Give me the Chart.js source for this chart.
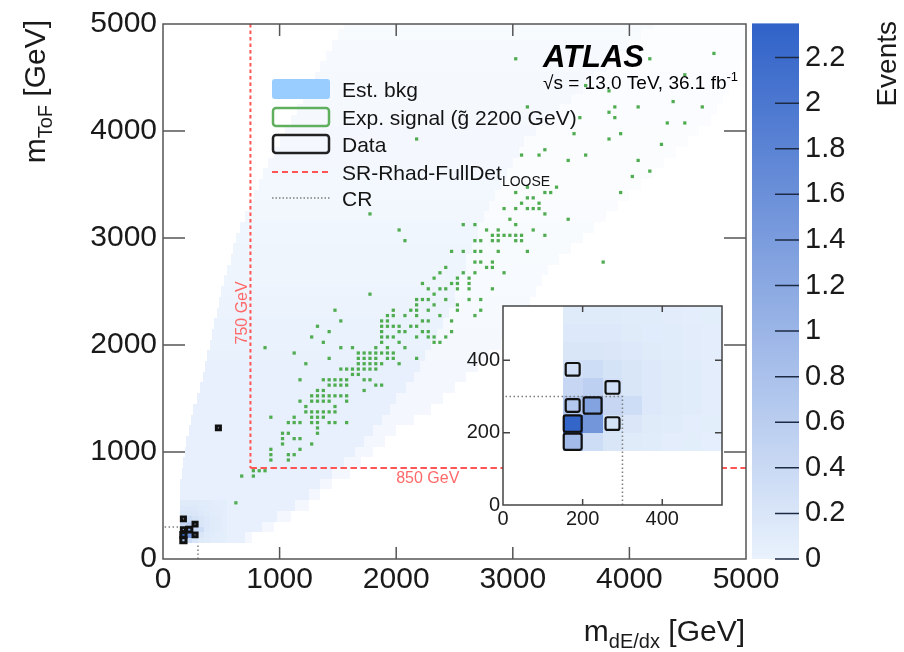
<!DOCTYPE html>
<html>
<head>
<meta charset="utf-8">
<script src="https://cdn.jsdelivr.net/npm/chart.js@4.4.1/dist/chart.umd.min.js"></script>
<style>
  html, body { margin: 0; padding: 0; background: #fff; }
  #wrap { position: relative; width: 904px; height: 652px; overflow: hidden; }
  #wrap canvas { position: absolute; }
  #main { left: 0; top: 0; }
  #cbar { left: 740px; top: 0; }
  #inset { left: 440px; top: 290px; }
</style>
</head>
<body>
<div id="wrap">
  <canvas id="main" width="904" height="652"></canvas>
  <canvas id="cbar" width="164" height="652"></canvas>
  <canvas id="inset" width="300" height="260"></canvas>
</div>
<script>
// Datos (GeV, bins de 50 GeV)
const mainMax = 5000;
const insetMax = 550;
const cbMax = 2.35;
const srX = 750;   // corte m_dE/dx
const srY = 850;   // corte m_ToF
const crCut = 300; // región de control

// fondo estimado: filas de 100 GeV, núcleo y halo disperso
const bkgTail = 0.03;
const bkgRowLow = [150,250,350,450,550,650,750,850,950,1050,1150,1250,1350,1450,1550,1650,1750,1850,1950,2050,
  2150,2250,2350,2450,2550,2650,2750,2850,2950,3050,3150,3250,3350,3450,3550,3650,3750,3850,3950,4050,
  4150,4250,4350,4450,4550,4650,4750,4850,4950];
const bkgCoreFrom = [150,150,150,150,150,150,160,170,190,200,220,240,260,290,320,340,360,380,400,420,
  440,460,480,500,520,550,580,600,630,660,700,740,780,820,860,900,950,1000,1050,1100,
  1150,1200,1250,1300,1350,1400,1450,1500,1550];
const bkgCoreTo = [700,850,980,1130,1250,1350,1450,1550,1650,1720,1800,1880,1950,2000,2080,2150,2200,2250,2300,2350,
  2400,2450,2500,2500,2550,2600,2600,2650,2700,2700,2750,2800,2850,2900,2950,3000,3050,3100,3200,3300,
  3400,3500,3600,3700,3800,3900,4000,4100,4200];
const bkgHaloTo = [760,950,1100,1250,1350,1450,1600,1700,1800,1900,2000,2150,2300,2400,2500,2600,2700,2800,2900,3000,
  3050,3100,3150,3200,3250,3300,3400,3500,3600,3700,3800,3900,4000,4100,4200,4300,4400,4500,4600,4700,
  4750,4800,4850,4900,4950,5000,5000,5000,5000];
const bkgLevel = [1,1,1,1,1,1,1,1,1,1,1,1,1,1,1,1,1,0.95,0.9,0.9,
  0.85,0.8,0.8,0.75,0.7,0.7,0.65,0.65,0.6,0.6,0.55,0.55,0.5,0.5,0.5,0.45,0.45,0.45,0.45,0.4,
  0.4,0.4,0.4,0.4,0.35,0.35,0.35,0.3,0.3];

// zona baja (inserto): bordes de bins y contenido, filas de abajo hacia arriba
const lowEdges = [150,200,250,300,350,400,450,500,550];
const lowBkg = [
  [0.9, 0.35, 0.2, 0.12, 0.1, 0.08, 0.07, 0.06],
  [2.3, 1.5, 0.25, 0.18, 0.12, 0.1, 0.08, 0.07],
  [0.7, 1.3, 0.45, 0.35, 0.15, 0.12, 0.1, 0.08],
  [0.45, 0.55, 0.3, 0.2, 0.15, 0.12, 0.1, 0.08],
  [0.3, 0.35, 0.25, 0.2, 0.15, 0.12, 0.1, 0.08],
  [0.2, 0.2, 0.18, 0.15, 0.12, 0.1, 0.09, 0.08],
  [0.15, 0.15, 0.15, 0.12, 0.11, 0.1, 0.09, 0.08],
  [0.12, 0.12, 0.12, 0.1, 0.1, 0.09, 0.08, 0.07]
];

// datos observados (centros de bin) y número de eventos
const dataX = [175, 175, 225, 175, 275, 275, 175, 475];
const dataY = [175, 225, 275, 275, 225, 325, 375, 1225];
const dataN = [2, 2, 2, 1, 1, 1, 1, 1];

// señal esperada (gluino 2200 GeV), centros de bin
const signalPts = [
  [1775,3225],[2025,3075],[2075,2975],[2575,3125],[2675,3125],[2775,3075],[2875,3075],[2975,3175],[2925,3275],
  [2825,3025],[2875,3025],[2925,3025],[2975,3025],[2675,2975],[2725,2975],[2825,2975],[2875,2975],
  [2475,2875],[2575,2875],[2675,2875],[2725,2875],[2875,2875],[2675,2775],[2725,2775],[2825,2775],
  [2775,2725],[2825,2725],[2925,2675],[2575,2675],[2675,2675],[2425,2725],[2375,2675],[2325,2625],[2525,2625],[2625,2625],
  [2225,2575],[2275,2525],[2375,2525],[2425,2525],[2525,2575],[2625,2575],[2475,2575],
  [1775,2475],[2175,2425],[2225,2425],[2325,2475],[2525,2525],[2625,2525],[2725,2425],[2825,2525],
  [2325,2375],[2425,2425],[2525,2375],[2625,2425],[2725,2325],[2175,2375],[2275,2425],
  [1475,2325],[1975,2325],[2125,2325],[2175,2325],[2525,2325],[2275,2325],
  [1525,2225],[1925,2275],[1975,2275],[2075,2275],[2175,2275],[2225,2225],[2275,2225],[2375,2275],[2475,2225],[2675,2275],
  [1325,2175],[1875,2225],[1925,2225],[1875,2175],[1925,2175],[1975,2175],[2025,2175],[2125,2175],[2175,2175],
  [1275,2075],[1425,2125],[1875,2125],[1925,2075],[2025,2125],[2075,2125],[2175,2075],[2275,2125],[2325,2075],[2425,2075],[2475,2125],[2225,2125],
  [875,1975],[1375,2025],[1525,1975],[1625,1975],[1825,1975],[1875,2025],[1925,1975],[2025,2025],[2075,1975],[1975,2075],[1875,2075],[2325,2025],[2375,2025],[2275,2075],
  [1125,1925],[1675,1925],[1725,1925],[1775,1925],[1825,1925],[1875,1925],[1925,1925],[1975,1925],
  [1425,1875],[1675,1875],[1725,1875],[1775,1875],[1825,1875],[1925,1875],[1975,1875],[2175,1875],
  [1225,1825],[1675,1825],[1725,1825],[1775,1825],[1825,1825],[1875,1825],[2025,1825],
  [1525,1775],[1575,1775],[1625,1775],[1675,1775],[1725,1775],[1775,1775],[1825,1775],
  [1175,1675],[1375,1675],[1425,1675],[1475,1675],[1525,1675],[1575,1675],[1625,1725],[1675,1725],[1725,1675],[1775,1675],[1825,1625],[1875,1625],
  [1325,1575],[1375,1575],[1425,1625],[1475,1625],[1525,1625],[1575,1625],[1725,1575],
  [1175,1475],[1275,1525],[1325,1525],[1375,1525],[1425,1525],[1475,1525],[1525,1525],[1575,1475],
  [1225,1425],[1275,1475],[1325,1475],[1375,1475],[1425,1475],[1475,1425],[1575,1525],
  [1225,1375],[1275,1375],[1325,1375],[1375,1375],[1425,1375],[1475,1375],
  [925,1325],[1125,1325],[1275,1325],[1325,1325],[1375,1325],[1425,1275],[1475,1275],[1575,1275],
  [1075,1275],[1125,1275],[1175,1275],[1275,1275],[1325,1275],
  [1025,1175],[1075,1175],[1325,1225],[1325,1175],
  [1025,1125],[1125,1125],[1175,1125],
  [1025,1075],[1275,1075],
  [925,1025],[1175,1025],[925,975],[1075,975],[1125,975],[925,925],[1075,925],
  [775,825],[825,825],[875,825],[675,775],[775,775],[625,525],
  [2175,3925],
  [3025,4675],[4175,4675],[4725,4725],[4475,4525],[3625,4425],[3825,4375],
  [3125,4225],[3875,4225],[4075,4225],[4375,4275],[4625,4225],[3825,4175],[3875,4125],[3575,4125],
  [4325,4075],[4475,4075],[3525,3975],[3925,3975],[3825,3925],[4275,3875],[3275,3825],
  [3075,3775],[3225,3775],[3475,3725],[3625,3775],[4075,3725],[4175,3625],[4025,3575],
  [3125,3475],[3375,3475],[3275,3425],[3325,3425],[3025,3425],[3925,3425],[3125,3375],[3175,3375],
  [3075,3325],[3225,3325],[3025,3275],[3125,3275],[3175,3275],[3225,3275],[3275,3225],[3475,3175],
  [3025,3125],[3175,3075],[3025,3025],[3075,3025],[3275,3025],[3025,2975],[3075,2975],[3125,2875],[3775,2775]
];

const FONT = "'Liberation Sans', Arial, Helvetica, sans-serif";
Chart.defaults.font.family = FONT;
Chart.defaults.color = '#1a1a1a';

// Paleta lineal de la barra de color
function cellColor(v, level = 1) {
  const t = Math.max(0, Math.min(1, v / cbMax));
  const lo = [233, 242, 253], hi = [48, 98, 200];
  const c = lo.map((l, i) => l + (hi[i] - l) * t);
  return 'rgb(' + c.map(ch => Math.round(255 + (ch - 255) * level)).join(',') + ')';
}

function fillCell(chart, x0, x1, y0, y1, color) {
  const xs = chart.scales.x, ys = chart.scales.y;
  const l = Math.round(xs.getPixelForValue(x0)), r = Math.round(xs.getPixelForValue(x1));
  const t = Math.round(ys.getPixelForValue(y1)), b = Math.round(ys.getPixelForValue(y0));
  chart.ctx.fillStyle = color;
  chart.ctx.fillRect(l, t, r - l, b - t);
}

function clipArea(chart) {
  const a = chart.chartArea;
  chart.ctx.beginPath();
  chart.ctx.rect(a.left, a.top, a.right - a.left, a.bottom - a.top);
  chart.ctx.clip();
}

function drawLowBins(chart) {
  lowBkg.forEach((row, j) => row.forEach((v, i) => {
    fillCell(chart, lowEdges[i], lowEdges[i + 1], lowEdges[j], lowEdges[j + 1], cellColor(v));
  }));
}

function drawCrLines(chart) {
  const ctx = chart.ctx, xs = chart.scales.x, ys = chart.scales.y;
  ctx.save();
  ctx.strokeStyle = 'rgb(125,125,125)';
  ctx.lineWidth = 1.5;
  ctx.setLineDash([1.5, 2.5]);
  ctx.beginPath();
  ctx.moveTo(xs.getPixelForValue(crCut), ys.getPixelForValue(0));
  ctx.lineTo(xs.getPixelForValue(crCut), ys.getPixelForValue(crCut));
  ctx.lineTo(xs.getPixelForValue(0), ys.getPixelForValue(crCut));
  ctx.stroke();
  ctx.restore();
}

function drawDataBoxes(chart, lw, radius) {
  const ctx = chart.ctx, xs = chart.scales.x, ys = chart.scales.y;
  ctx.save();
  clipArea(chart);
  ctx.strokeStyle = '#111';
  ctx.lineWidth = lw;
  dataX.forEach((x, i) => {
    const h = 25 * (0.5 + 0.2 * dataN[i]);
    const l = xs.getPixelForValue(x - h), r = xs.getPixelForValue(x + h);
    const t = ys.getPixelForValue(dataY[i] + h), b = ys.getPixelForValue(dataY[i] - h);
    ctx.beginPath();
    if (radius && ctx.roundRect) ctx.roundRect(l, t, r - l, b - t, radius);
    else ctx.rect(l, t, r - l, b - t);
    ctx.stroke();
  });
  ctx.restore();
}

function drawFrame(chart, ticks, lenX, lenY, color, lw) {
  const ctx = chart.ctx, a = chart.chartArea, xs = chart.scales.x, ys = chart.scales.y;
  ctx.save();
  ctx.strokeStyle = color;
  ctx.lineWidth = lw;
  ctx.strokeRect(a.left, a.top, a.right - a.left, a.bottom - a.top);
  ctx.beginPath();
  ticks.forEach(v => {
    const px = xs.getPixelForValue(v), py = ys.getPixelForValue(v);
    if (px > a.left + 1 && px < a.right - 1) {
      ctx.moveTo(px, a.bottom); ctx.lineTo(px, a.bottom - lenX);
      ctx.moveTo(px, a.top); ctx.lineTo(px, a.top + lenX);
    }
    if (py > a.top + 1 && py < a.bottom - 1) {
      ctx.moveTo(a.left, py); ctx.lineTo(a.left + lenY, py);
      ctx.moveTo(a.right, py); ctx.lineTo(a.right - lenY, py);
    }
  });
  ctx.stroke();
  ctx.restore();
}

// texto con subíndices / superíndices
function drawRich(ctx, parts, x, y, align) {
  let w = 0;
  parts.forEach(p => {
    ctx.font = (p.style || '') + ' ' + p.size + 'px ' + FONT;
    p.w = ctx.measureText(p.t).width;
    w += p.w;
  });
  let cx = align === 'right' ? x - w : x;
  ctx.textAlign = 'left';
  parts.forEach(p => {
    ctx.font = (p.style || '') + ' ' + p.size + 'px ' + FONT;
    ctx.fillText(p.t, cx, y + (p.dy || 0));
    cx += p.w;
  });
}

function rr(ctx, x, y, w, h, r) {
  ctx.beginPath();
  if (ctx.roundRect) ctx.roundRect(x, y, w, h, r); else ctx.rect(x, y, w, h);
}

function drawLegend(ctx) {
  ctx.save();
  ctx.fillStyle = 'rgb(153,204,255)';
  rr(ctx, 272, 79, 58, 20, 3); ctx.fill();
  ctx.lineWidth = 2.5;
  ctx.strokeStyle = 'rgb(95,175,95)';
  rr(ctx, 273, 108, 56, 18, 3); ctx.stroke();
  ctx.strokeStyle = '#222';
  rr(ctx, 273, 135, 56, 18, 3); ctx.stroke();
  ctx.lineWidth = 2;
  ctx.strokeStyle = 'rgb(255,85,85)';
  ctx.setLineDash([6, 4]);
  ctx.beginPath(); ctx.moveTo(272, 172); ctx.lineTo(330, 172); ctx.stroke();
  ctx.strokeStyle = 'rgb(125,125,125)';
  ctx.lineWidth = 1.5;
  ctx.setLineDash([1.5, 2]);
  ctx.beginPath(); ctx.moveTo(272, 198); ctx.lineTo(330, 198); ctx.stroke();
  ctx.setLineDash([]);

  ctx.fillStyle = '#141414';
  ctx.textBaseline = 'alphabetic';
  drawRich(ctx, [{t: 'Est. bkg', size: 21}], 342, 97);
  drawRich(ctx, [{t: 'Exp. signal (g\u0303 2200 GeV)', size: 21}], 342, 125);
  drawRich(ctx, [{t: 'Data', size: 21}], 342, 152);
  drawRich(ctx, [{t: 'SR-Rhad-FullDet', size: 21}, {t: 'LOOSE', size: 14, dy: 6}], 342, 180);
  drawRich(ctx, [{t: 'CR', size: 21}], 342, 206);
  ctx.restore();
}

const mainPlugin = {
  id: 'mainDecor',
  beforeDatasetsDraw(chart) {
    const ctx = chart.ctx;
    ctx.save();
    clipArea(chart);
    drawCrLines(chart);
    bkgRowLow.forEach((y0, i) => {
      const y1 = Math.min(y0 + 100, mainMax);
      fillCell(chart, bkgCoreFrom[i], bkgCoreTo[i], y0, y1, cellColor(bkgTail, bkgLevel[i]));
      fillCell(chart, bkgCoreTo[i], bkgHaloTo[i], y0, y1, cellColor(bkgTail, bkgLevel[i] * 0.45));
    });
    drawLowBins(chart);
    ctx.restore();
  },
  afterDatasetsDraw(chart) {
    const ctx = chart.ctx, xs = chart.scales.x, ys = chart.scales.y;
    drawDataBoxes(chart, 3, 0);

    // líneas de la región de señal
    ctx.save();
    ctx.strokeStyle = 'rgb(255,85,85)';
    ctx.lineWidth = 2;
    ctx.setLineDash([3.5, 3]);
    ctx.beginPath();
    ctx.moveTo(xs.getPixelForValue(srX), ys.getPixelForValue(mainMax));
    ctx.lineTo(xs.getPixelForValue(srX), ys.getPixelForValue(srY));
    ctx.stroke();
    ctx.setLineDash([6.5, 3.5]);
    ctx.beginPath();
    ctx.moveTo(xs.getPixelForValue(srX), ys.getPixelForValue(srY));
    ctx.lineTo(xs.getPixelForValue(mainMax), ys.getPixelForValue(srY));
    ctx.stroke();
    ctx.setLineDash([]);

    ctx.fillStyle = 'rgb(255,105,105)';
    ctx.font = '16px ' + FONT;
    ctx.textAlign = 'left';
    ctx.textBaseline = 'alphabetic';
    ctx.fillText('850 GeV', xs.getPixelForValue(2000), ys.getPixelForValue(srY) + 15);
    ctx.translate(xs.getPixelForValue(srX) - 3, ys.getPixelForValue(2300));
    ctx.rotate(-Math.PI / 2);
    ctx.textAlign = 'center';
    ctx.fillText('750 GeV', 0, 0);
    ctx.restore();

    drawFrame(chart, [0, 1000, 2000, 3000, 4000, 5000], 12, 22, '#555', 1.5);
    drawLegend(ctx);

    // etiqueta ATLAS
    ctx.save();
    ctx.fillStyle = '#000';
    ctx.textBaseline = 'alphabetic';
    drawRich(ctx, [{t: 'ATLAS', size: 31, style: 'italic bold'}], 543, 67);
    drawRich(ctx, [{t: '\u221As = 13.0 TeV, 36.1 fb', size: 19}, {t: '-1', size: 13, dy: -8}], 543, 89);

    // títulos de los ejes
    ctx.fillStyle = '#1a1a1a';
    drawRich(ctx, [{t: 'm', size: 30}, {t: 'dE/dx', size: 20, dy: 7}, {t: ' [GeV]', size: 30}], 745, 641, 'right');
    ctx.translate(45, 20);
    ctx.rotate(-Math.PI / 2);
    drawRich(ctx, [{t: 'm', size: 30}, {t: 'ToF', size: 20, dy: 7}, {t: ' [GeV]', size: 30}], 0, 0, 'right');
    ctx.restore();
  }
};

new Chart(document.getElementById('main'), {
  type: 'scatter',
  data: {
    datasets: [{
      label: 'Exp. signal',
      data: signalPts.map(([x, y]) => ({x, y})),
      pointStyle: 'rect',
      pointRadius: 2.3,
      backgroundColor: 'rgb(80,172,80)',
      borderWidth: 0
    }]
  },
  options: {
    responsive: false,
    animation: false,
    layout: {padding: {left: 63, right: 158, top: 22, bottom: 43}},
    plugins: {legend: {display: false}, tooltip: {enabled: false}},
    scales: {
      x: {
        type: 'linear', min: 0, max: mainMax,
        ticks: {stepSize: 1000, includeBounds: false, autoSkip: false, maxRotation: 0, padding: 3,
                font: {size: 30}, callback: v => String(v)},
        grid: {display: false, drawTicks: false},
        border: {display: false},
        afterFit: s => { s.height = 50; }
      },
      y: {
        type: 'linear', min: 0, max: mainMax,
        ticks: {stepSize: 1000, includeBounds: false, autoSkip: false, padding: 6,
                font: {size: 30}, callback: v => String(v)},
        grid: {display: false, drawTicks: false},
        border: {display: false},
        afterFit: s => { s.width = 100; }
      }
    }
  },
  plugins: [mainPlugin]
});

// Inserto: zoom de la zona de control
const insetPlugin = {
  id: 'insetDecor',
  beforeDatasetsDraw(chart) {
    const ctx = chart.ctx, a = chart.chartArea;
    ctx.save();
    ctx.fillStyle = '#fff';
    ctx.fillRect(a.left, a.top, a.right - a.left, a.bottom - a.top);
    clipArea(chart);
    drawLowBins(chart);
    drawCrLines(chart);
    ctx.restore();
  },
  afterDatasetsDraw(chart) {
    drawDataBoxes(chart, 2.2, 2);
    drawFrame(chart, [0, 200, 400], 6, 7, '#444', 1.5);
  }
};

new Chart(document.getElementById('inset'), {
  type: 'scatter',
  data: {datasets: []},
  options: {
    responsive: false,
    animation: false,
    layout: {padding: {left: 23, right: 18, top: 16, bottom: 15}},
    plugins: {legend: {display: false}, tooltip: {enabled: false}},
    scales: {
      x: {
        type: 'linear', min: 0, max: insetMax,
        ticks: {stepSize: 200, includeBounds: false, autoSkip: false, maxRotation: 0, padding: 2,
                font: {size: 20}, callback: v => String(v)},
        grid: {display: false, drawTicks: false},
        border: {display: false},
        afterFit: s => { s.height = 30; }
      },
      y: {
        type: 'linear', min: 0, max: insetMax,
        ticks: {stepSize: 200, includeBounds: false, autoSkip: false, padding: 3,
                font: {size: 20}, callback: v => String(v)},
        grid: {display: false, drawTicks: false},
        border: {display: false},
        afterFit: s => { s.width = 40; }
      }
    }
  },
  plugins: [insetPlugin]
});

// Barra de color
const cbarPlugin = {
  id: 'cbarDecor',
  beforeDatasetsDraw(chart) {
    const ctx = chart.ctx, a = chart.chartArea, ys = chart.scales.y;
    const g = ctx.createLinearGradient(0, ys.getPixelForValue(0), 0, ys.getPixelForValue(cbMax));
    g.addColorStop(0, cellColor(0));
    g.addColorStop(1, cellColor(cbMax));
    ctx.save();
    ctx.fillStyle = g;
    ctx.fillRect(a.left, a.top, a.right - a.left, a.bottom - a.top);
    ctx.restore();
  },
  afterDatasetsDraw(chart) {
    const ctx = chart.ctx, a = chart.chartArea, ys = chart.scales.y;
    ctx.save();
    ctx.strokeStyle = '#1d2a44';
    ctx.lineWidth = 1.5;
    ctx.beginPath();
    ys.ticks.forEach(t => {
      const py = ys.getPixelForValue(t.value);
      ctx.moveTo(a.right - 24, py);
      ctx.lineTo(a.right, py);
    });
    ctx.stroke();
    ctx.fillStyle = '#1a1a1a';
    ctx.font = '28px ' + FONT;
    ctx.textAlign = 'right';
    ctx.textBaseline = 'alphabetic';
    ctx.translate(156, 21);
    ctx.rotate(-Math.PI / 2);
    ctx.fillText('Events', 0, 0);
    ctx.restore();
  }
};

new Chart(document.getElementById('cbar'), {
  type: 'scatter',
  data: {datasets: []},
  options: {
    responsive: false,
    animation: false,
    layout: {padding: {left: 12, right: 45, top: 22, bottom: 93}},
    plugins: {legend: {display: false}, tooltip: {enabled: false}},
    scales: {
      x: {type: 'linear', display: false, min: 0, max: 1},
      y: {
        type: 'linear', position: 'right', min: 0, max: cbMax,
        ticks: {stepSize: 0.2, includeBounds: false, autoSkip: false, padding: 6,
                font: {size: 29}, callback: v => String(Math.round(v * 10) / 10)},
        grid: {display: false, drawTicks: false},
        border: {display: false},
        afterFit: s => { s.width = 60; }
      }
    }
  },
  plugins: [cbarPlugin]
});
</script>
</body>
</html>
